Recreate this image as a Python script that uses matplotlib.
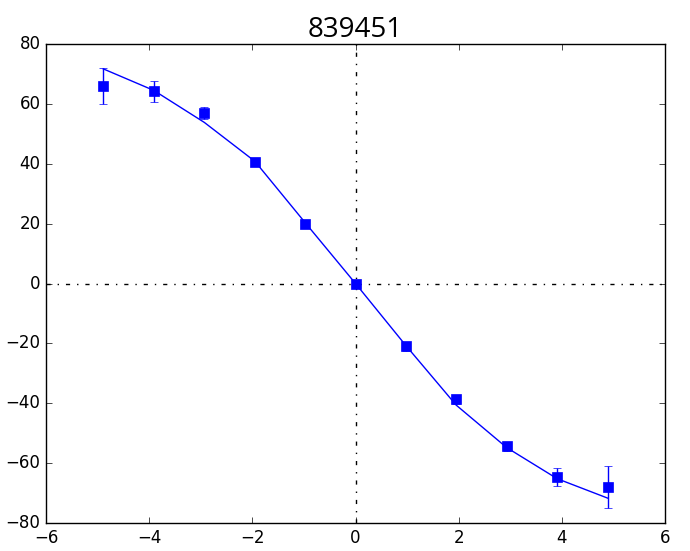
import matplotlib
matplotlib.use("Agg")
import matplotlib.pyplot as plt

plt.style.use('classic')

x = [-4.89, -3.91, -2.93, -1.95, -0.97, 0.0, 0.97, 1.95, 2.93, 3.91, 4.89]
y_obs = [66.0, 64.3, 57.0, 40.7, 20.0, 0.0, -20.9, -38.6, -54.4, -64.6, -68.0]
y_err = [6.0, 3.5, 2.0, 1.0, 0.6, 0.5, 1.5, 1.5, 1.5, 3.0, 7.0]
y_model = [71.7, 64.5, 53.8, 40.8, 20.2, 0.0, -20.6, -40.6, -54.8, -65.2, -71.7]

fig = plt.figure(figsize=(6.9, 5.51), dpi=100, facecolor='white')
ax = fig.add_axes([0.0667, 0.0508, 0.8971, 0.8693])

ax.plot(x, y_model, '-', color='b', lw=1)
ax.errorbar(x, y_obs, yerr=y_err, fmt='s', color='b', ms=7, mec='b', capsize=3, elinewidth=1)
ax.axhline(0, color='k', ls='-.', lw=1)
ax.axvline(0, color='k', ls='-.', lw=1)

ax.set_xlim(-6, 6)
ax.set_ylim(-80, 80)
ax.set_title('839451', fontsize=20, family=['Open Sans', 'DejaVu Sans'])

fig.savefig('out.png', dpi=100, facecolor='white')
